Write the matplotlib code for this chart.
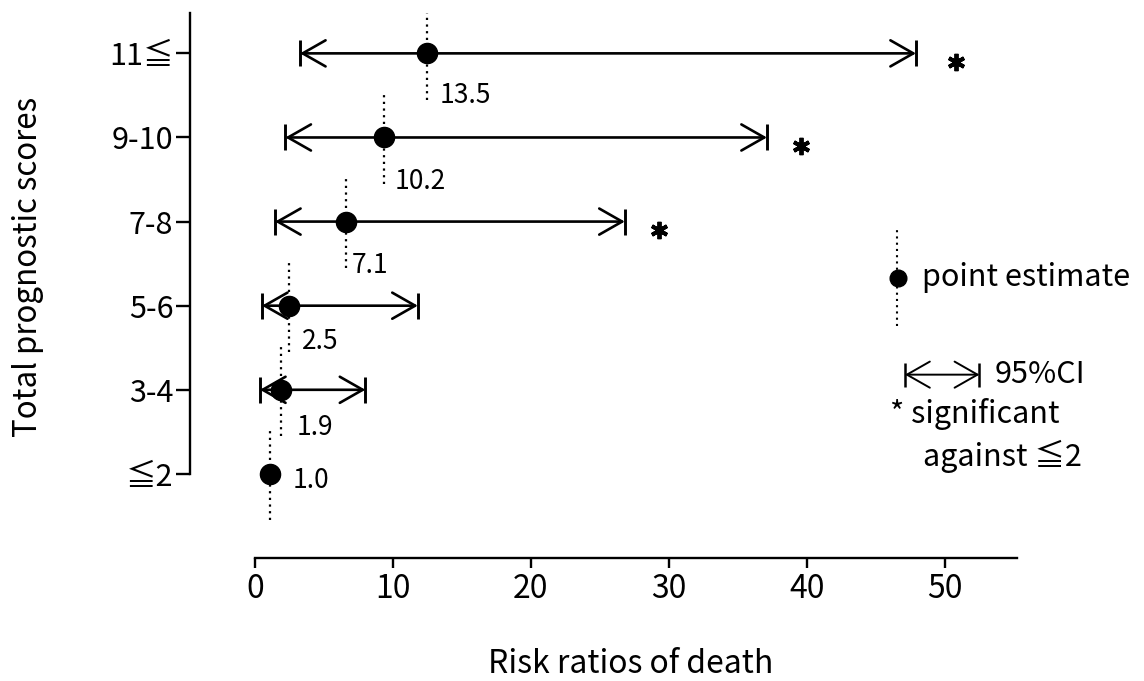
import matplotlib
matplotlib.use("Agg")
import matplotlib.pyplot as plt

# ---- data ----
groups = ["≦2", "3-4", "5-6", "7-8", "9-10", "11≦"]
rr_drawn = [1.1, 1.9, 2.5, 6.6, 9.35, 12.5]      # where the dots sit
rr_labels = ["1.0", "1.9", "2.5", "7.1", "10.2", "13.5"]
ci_low = [None, 0.36, 0.5, 1.45, 2.2, 3.26]
ci_high = [None, 8.0, 11.8, 26.8, 37.1, 47.9]
signif_x = [None, None, None, 29.3, 39.6, 50.8]
xticks = [0, 10, 20, 30, 40, 50]

# label offsets (x in data units, y in rows)
label_dx = [1.6, 1.1, 0.9, 0.4, 0.8, 0.9]
label_dy = [-0.08, -0.45, -0.42, -0.52, -0.52, -0.5]

JP = "Noto Sans CJK JP"
plt.rcParams["font.family"] = [JP, "DejaVu Sans"]

fig = plt.figure(figsize=(11.44, 6.81), dpi=100)
ax = fig.add_axes([190 / 1144, 123 / 681, 827 / 1144, 545 / 681])
ax.set_xlim(-4.71, 55.22)
ax.set_ylim(-1.0, 5.48)

rows = list(range(len(groups)))

for i in rows:
    y = rows[i]
    x = rr_drawn[i]
    # dotted vertical guide through the point
    ax.vlines(x, y - 0.55, y + 0.55, colors="black", lw=1.6,
              linestyles=(0, (1, 2)), zorder=2)
    if ci_low[i] is not None:
        ax.annotate("", xy=(ci_low[i], y), xytext=(ci_high[i], y),
                    arrowprops=dict(arrowstyle="<->,head_length=16.5,head_width=9.4",
                                    mutation_scale=1, lw=1.9, color="black",
                                    shrinkA=0, shrinkB=0), zorder=3)
        ax.plot([ci_low[i], ci_high[i]], [y, y], ls="none", marker="|",
                ms=19, mew=2.1, color="black", zorder=3)
    ax.plot(x, y, "o", ms=14.5, color="black", zorder=4)
    ax.text(x + label_dx[i], y + label_dy[i], rr_labels[i], fontsize=19,
            va="center", ha="left")
    if signif_x[i] is not None:
        ax.plot(signif_x[i], y - 0.1, ls="none", marker=(6, 2, 0), ms=12.5,
                mew=2.8, color="black")

# axes styling
for s in ["top", "right"]:
    ax.spines[s].set_visible(False)
ax.spines["left"].set_bounds(0, 5.48)
ax.spines["bottom"].set_bounds(0, 55.22)
ax.spines["left"].set_linewidth(1.7)
ax.spines["bottom"].set_linewidth(1.7)
ax.set_yticks(rows)
ax.set_yticklabels(groups, fontsize=22)
ax.set_xticks(xticks)
ax.set_xticklabels([str(t) for t in xticks], fontsize=23)
ax.tick_params(axis="y", length=10, width=1.7, pad=2)
ax.tick_params(axis="x", length=7, width=1.7, pad=4)

ax.set_xlabel("Risk ratios of death", fontsize=23)
ax.xaxis.set_label_coords(631 / 1144, 1 / 681, transform=fig.transFigure)
ax.xaxis.label.set_verticalalignment("bottom")
ax.set_ylabel("Total prognostic scores", fontsize=22.5)
ax.yaxis.set_label_coords(28 / 1144, (681 - 267) / 681, transform=fig.transFigure)
ax.yaxis.label.set_verticalalignment("center")

# hand-drawn legend on the right
ax.vlines(46.5, 1.76, 2.9, colors="black", lw=1.5, linestyles=(0, (1, 2)),
          clip_on=False)
ax.plot(46.6, 2.33, "o", ms=12, color="black", clip_on=False, zorder=4)
ax.text(48.3, 2.33, "point estimate", fontsize=22, va="center", ha="left")

ax.annotate("", xy=(47.1, 1.18), xytext=(52.5, 1.18),
            arrowprops=dict(arrowstyle="<->,head_length=16.5,head_width=9.4",
                            mutation_scale=1, lw=1.4, color="black",
                            shrinkA=0, shrinkB=0), annotation_clip=False)
ax.plot([47.1, 52.5], [1.18, 1.18], ls="none", marker="|", ms=17, mew=1.8,
        color="black", clip_on=False)
ax.text(53.6, 1.18, "95%CI", fontsize=22, va="center", ha="left")
ax.text(46.0, 0.71, "* significant", fontsize=22, va="center", ha="left")
ax.text(48.4, 0.21, "against ≦2", fontsize=22, va="center", ha="left")

fig.savefig("out.png", dpi=100)
